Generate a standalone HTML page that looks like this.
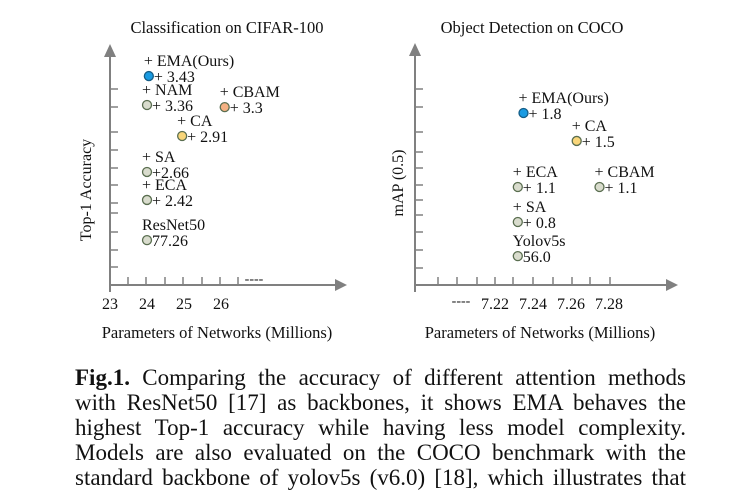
<!DOCTYPE html>
<html><head><meta charset="utf-8"><style>
body{margin:0;background:#fff;width:741px;height:496px;overflow:hidden}
svg text{font-family:"Liberation Serif",serif;fill:#111}
.cap{position:absolute;left:75px;width:611px;font:23px/25px "Liberation Serif",serif;color:#111;text-align:justify;text-align-last:justify;white-space:nowrap}
</style></head><body>
<svg id="chart" width="741" height="360" style="position:absolute;left:0;top:0"></svg>
<div class="cap" style="top:365px">
<div><b>Fig.1.</b> Comparing the accuracy of different attention methods</div>
<div>with ResNet50 [17] as backbones, it shows EMA behaves the</div>
<div>highest Top-1 accuracy while having less model complexity.</div>
<div>Models are also evaluated on the COCO benchmark with the</div>
<div>standard backbone of yolov5s (v6.0) [18], which illustrates that</div>
</div>
<script>
// Left chart data
const clsNames = ["+ EMA(Ours)","+ NAM","+ CBAM","+ CA","+ SA","+ ECA","ResNet50"];
const clsValues = ["+ 3.43","+ 3.36","+ 3.3","+ 2.91","+2.66","+ 2.42","77.26"];
const clsParams = [24.05,24.0,26.1,24.95,24.0,24.0,24.0];
const clsLevel = [8.89,7.66,7.57,6.34,4.81,3.62,1.91];
const clsColors = ["#1a9be2","#d9dccd","#f4b183","#f9d67a","#d9dccd","#d9dccd","#d9dccd"];
const clsXTicks = [23,24,25,26];
// Right chart data
const detNames = ["+ EMA(Ours)","+ CA","+ ECA","+ CBAM","+ SA","Yolov5s"];
const detValues = ["+ 1.8","+ 1.5","+ 1.1","+ 1.1","+ 0.8","56.0"];
const detParams = [7.235,7.263,7.232,7.275,7.232,7.232];
const detLevel = [7.32,6.13,4.17,4.17,2.68,1.23];
const detColors = ["#1a9be2","#f9d67a","#d9dccd","#d9dccd","#d9dccd","#d9dccd"];
const detXTicks = ["7.22","7.24","7.26","7.28"];

const svg = document.getElementById('chart');
const NS = "http://www.w3.org/2000/svg";
function mk(tag, attrs, txt){const e=document.createElementNS(NS,tag);for(const k in attrs)e.setAttribute(k,attrs[k]);if(txt!==undefined)e.textContent=txt;svg.appendChild(e);return e;}
const yS = v => 285 - v*23.5;

function axes(ax, ay0, ax1, yTicks, xTicks, pre){
  let e=mk('line',{x1:ax,y1:285,x2:ax1-8,y2:285,stroke:'#808080','stroke-width':2});
  
  
  e=mk('polygon',{points:`${ax1},285 ${ax1-12},279 ${ax1-12},291`,fill:'#808080'});
  
  
  e=mk('line',{x1:ax,y1:292,x2:ax,y2:ay0+10,stroke:'#808080','stroke-width':2});
  
  
  e=mk('polygon',{points:`${ax},${ay0} ${ax-6},${ay0+13} ${ax+6},${ay0+13}`,fill:'#808080'});
  
  
  yTicks.forEach(y=>{const t=mk('line',{x1:ax,y1:y,x2:ax+8,y2:y,stroke:'#808080','stroke-width':1.5});
    
    });
  xTicks.forEach(x=>{const t=mk('line',{x1:x,y1:285,x2:x,y2:277,stroke:'#808080','stroke-width':1.5});
    
    });
}
function points(names, vals, xs, lv, cols, xScale, pre){
  names.forEach((n,i)=>{
    const cx=xScale(xs[i]), cy=yS(lv[i]);
    let t=mk('text',{x:cx-5,y:cy-10,'font-size':16},n);
    
    
    const c=mk('circle',{cx:cx,cy:cy,r:4.5,fill:cols[i],stroke:cols[i]==="#1a9be2"?'#155d86':'#5a6e50','stroke-width':1.3});
    
    
    t=mk('text',{x:cx+5,y:cy+6,'font-size':16},vals[i]);
    
    
  });
}
function label(x,y,s,txt,name,rot){const t=mk('text',{x:x,y:y,'font-size':s,'text-anchor':'middle',transform:rot?`rotate(-90 ${x} ${y})`:''},txt);
  
  }

// left
const xL = v => 110 + (v-23)*37;
axes(110,44,347,[89,107,132,150,168,185,203,213,232,250,267],[128,146,165,183,202,220,238],'cls');
clsXTicks.forEach(v=>{const t=mk('text',{x:xL(v),y:309,'font-size':16,'text-anchor':'middle'},String(v));
  
  });
label(254,283,14,'----','cls-x-break');
label(227,33,16.5,'Classification on CIFAR-100','cls-title');
label(217,338,16.5,'Parameters of Networks (Millions)','cls-x-title');
label(91,190,16,'Top-1 Accuracy','cls-y-title',true);
points(clsNames,clsValues,clsParams,clsLevel,clsColors,xL,'cls');

// right
const xR = v => 495 + (v-7.22)*1900;
axes(415,43,678,[89,107,132,152,168,185,200,215,232,250,268],[438,457,477,495,513,533,553,572,590,610],'det');
detXTicks.forEach(v=>{const t=mk('text',{x:xR(parseFloat(v)),y:309,'font-size':16,'text-anchor':'middle'},v);
  
  });
label(461,305,14,'----','det-x-break');
label(532,33,16.5,'Object Detection on COCO','det-title');
label(540,338,16.5,'Parameters of Networks (Millions)','det-x-title');
label(403,183,16,'mAP (0.5)','det-y-title',true);
points(detNames,detValues,detParams,detLevel,detColors,xR,'det');
</script>
</body></html>
